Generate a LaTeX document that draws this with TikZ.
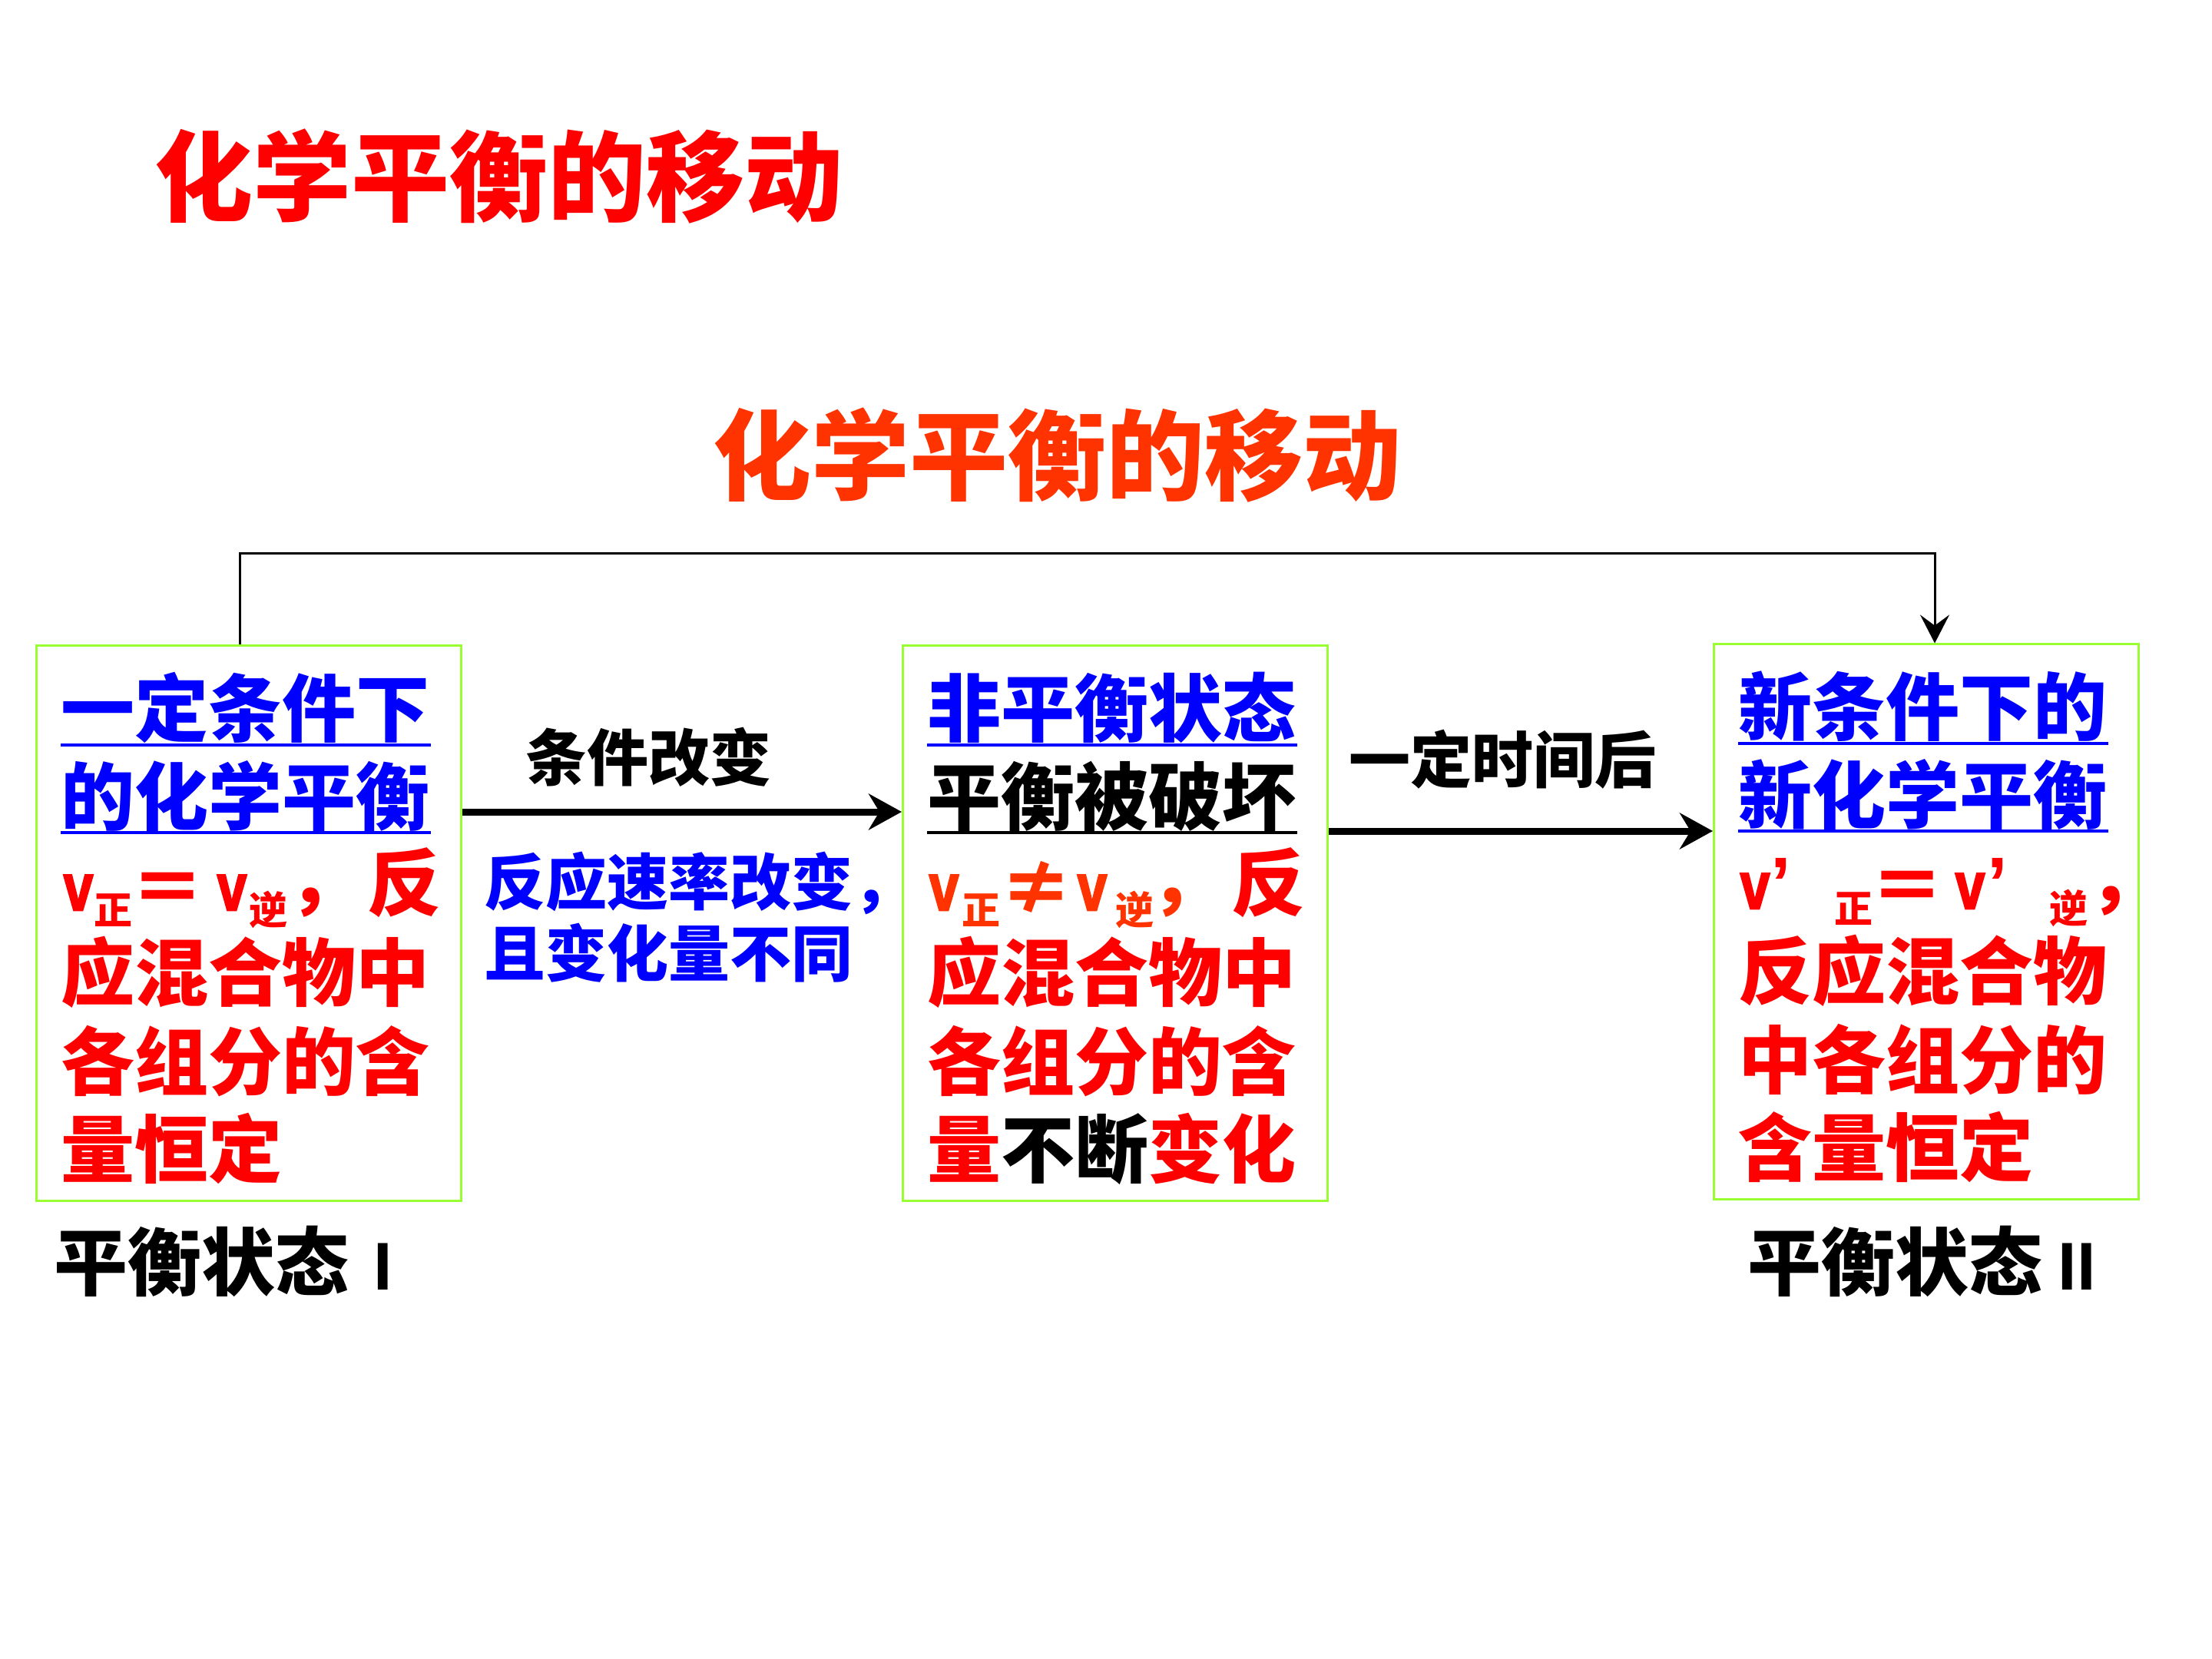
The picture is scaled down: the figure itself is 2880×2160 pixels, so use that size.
\documentclass[tikz,border=0pt]{standalone}
\usepackage{fontspec}
\usepackage{graphicx}
\usetikzlibrary{arrows.meta}
\newfontfamily\hei{Noto Sans CJK SC}
\newfontfamily\lat{Liberation Sans}
\newfontfamily\vfont{Liberation Sans}[BoldFeatures={FakeBold=3}]
\definecolor{tred}{RGB}{255,0,0}
\definecolor{tora}{RGB}{255,51,0}
\definecolor{tblue}{RGB}{0,0,255}
\definecolor{boxgreen}{RGB}{153,255,51}
\newlength\px \setlength\px{0.25pt}
\newcommand\fs[1]{\fontsize{#1}{#1}\selectfont}
\newcommand\at[3]{\rlap{\hspace*{#1\px}\raisebox{#2\px}{#3}}}
\newcommand\vv{\scalebox{0.72}[0.9]{\vfont\bfseries v}}
\newcommand\ap{{\lat\bfseries ’}}
\newcommand\sub[1]{{\hei\bfseries\fs{12.5pt}#1}}
\tikzset{
  txt/.style={inner sep=0pt, anchor=base west, font=\hei\bfseries\fs{24pt}},
  lbl/.style={inner sep=0pt, anchor=base, font=\hei\bfseries\fs{20pt}},
  stbox/.style={draw=boxgreen, line width=0.75pt, minimum width=138.25pt, minimum height=180.5pt, inner sep=0pt},
  bigarrow/.style={line width=2.25pt, -{Stealth[length=10.75pt, width=11.75pt, inset=3.5pt]}},
  thinarrow/.style={line width=0.75pt, -{Stealth[length=9.25pt, width=9.5pt, inset=3.5pt]}},
  ul/.style={line width=1pt}
}
\begin{document}
\begin{tikzpicture}[x=0.25pt,y=-0.25pt]
\fill[white] (0,0) rectangle (2880,2160);
\useasboundingbox (0,0) rectangle (2880,2160);

% titles
\node[inner sep=0pt, anchor=base west, font=\hei\bfseries\fs{32pt}, text=tred] (t1) at (201,279) {化学平衡的移动};
\node[inner sep=0pt, anchor=base, font=\hei\bfseries\fs{32pt}, text=tora] (t2) at (1376,642) {化学平衡的移动};

% boxes
\node[stbox] (b1) at (324,1202) {};
\node[stbox] (b2) at (1452,1202) {};
\node[stbox] (b3) at (2508,1200) {};

% box 1 text
\node[txt, text=tblue] (b1a) at (79,959) {一定条件下};
\node[txt, text=tblue] (b1b) at (79,1073) {的化学平衡};
\draw[ul, tblue] ([yshift=-2.75pt]b1a.base west) -- ([yshift=-2.75pt]b1a.base east);
\draw[ul, tblue] ([yshift=-2.75pt]b1b.base west) -- ([yshift=-2.75pt]b1b.base east);
\node[txt, text=tred] (b1c) at (79,1185) {\at{1}{0}{\vv}\at{41}{-18}{\sub{正}}\at{89}{-6}{＝}\at{201}{0}{\vv}\at{243}{-18}{\sub{逆}}\at{294}{6}{，}\at{397}{0}{反}};
\node[txt, text=tred] (b1d) at (79,1302) {应混合物中};
\node[txt, text=tred] (b1e) at (79,1418) {各组分的含};
\node[txt, text=tred] (b1f) at (79,1532) {量恒定};

% box 2 text
\node[txt, text=tblue] (b2a) at (1207,959) {非平衡状态};
\node[txt, text=black] (b2b) at (1207,1073) {平衡被破坏};
\draw[ul, tblue] ([yshift=-2.75pt]b2a.base west) -- ([yshift=-2.75pt]b2a.base east);
\draw[ul, black] ([yshift=-2.75pt]b2b.base west) -- ([yshift=-2.75pt]b2b.base east);
\node[txt, text=tora] (b2c) at (1207,1185) {\at{0}{0}{\vv}\at{43}{-18}{\sub{正}}\at{92}{-6}{≠}\at{193}{0}{\vv}\at{243}{-18}{\sub{逆}}\at{288}{6}{，}\at{394}{0}{\textcolor{tred}{反}}};
\node[txt, text=tred] (b2d) at (1207,1302) {应混合物中};
\node[txt, text=tred] (b2e) at (1207,1418) {各组分的含};
\node[txt, text=tred] (b2f) at (1207,1532) {量\textcolor{black}{不断}变化};

% box 3 text
\node[txt, text=tblue] (b3a) at (2263,957) {新条件下的};
\node[txt, text=tblue] (b3b) at (2263,1071) {新化学平衡};
\draw[ul, tblue] ([yshift=-2.75pt]b3a.base west) -- ([yshift=-2.75pt]b3a.base east);
\draw[ul, tblue] ([yshift=-2.75pt]b3b.base west) -- ([yshift=-2.75pt]b3b.base east);
\node[txt, text=tred] (b3c) at (2263,1183) {\at{0}{0}{\vv}\at{40}{0}{\ap}\at{123}{-18}{\sub{正}}\at{170}{-6}{＝}\at{280}{0}{\vv}\at{322}{0}{\ap}\at{403}{-18}{\sub{逆}}\at{454}{6}{，}};
\node[txt, text=tred] (b3d) at (2263,1300) {反应混合物};
\node[txt, text=tred] (b3e) at (2263,1416) {中各组分的};
\node[txt, text=tred] (b3f) at (2263,1530) {含量恒定};

% labels between boxes
\node[lbl] (l1) at (844,1017) {条件改变};
\node[lbl] (l2) at (1956,1019) {一定时间后};
\node[lbl, anchor=base west, text=tblue] (l3) at (630,1178) {反应速率改变，};
\node[lbl, anchor=base west, text=tblue] (l4) at (630,1271) {且变化量不同};

% state labels
\node[txt] (s1) at (70,1679) {平衡状态\hspace{32\px}{\lat\bfseries\fs{22pt}I}};
\node[txt] (s2) at (2275,1679) {平衡状态\hspace{20\px}{\lat\bfseries\fs{22pt}II}};

% connectors
\coordinate (r1) at (0,1057);
\coordinate (r2) at (0,1082);
\draw[bigarrow] (b1.east |- r1) -- (b2.west |- r1);
\draw[bigarrow] (b2.east |- r2) -- (b3.west |- r2);
\coordinate (c1) at (312,721);
\coordinate (c2) at (2519,721);
\draw[thinarrow] (b1.north -| c1) -- (c1) -- (c2) -- (b3.north -| c2);
\end{tikzpicture}
\end{document}
